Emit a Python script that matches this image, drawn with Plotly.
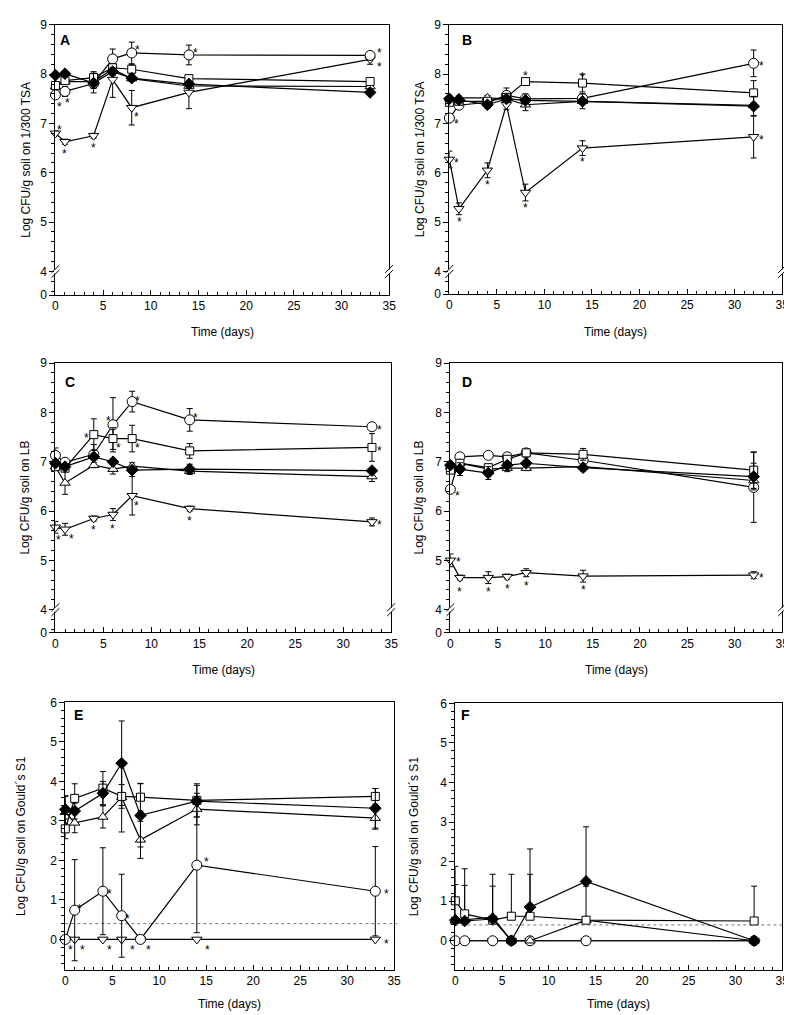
import plotly.graph_objects as go

W, H = 792, 1015

# ---------------- data ----------------
days_A = [0, 1, 4, 6, 8, 14, 33]
days_B = [0, 1, 4, 6, 8, 14, 32]
days_C = [0, 1, 4, 6, 8, 14, 33]
days_D = [0, 1, 4, 6, 8, 14, 32]
days_E = [0, 1, 4, 6, 8, 14, 33]
days_F = [0, 1, 4, 6, 8, 14, 32]

# Panel A  (1/300 TSA)
A_diamond = [7.98, 8.01, 7.82, 8.05, 7.92, 7.80, 7.63]
A_square = [7.77, 7.87, 7.93, 8.13, 8.10, 7.91, 7.85]
A_triup = [7.75, 7.85, 7.85, 8.10, 7.91, 7.76, 7.75]
A_circle = [7.58, 7.65, 7.81, 8.31, 8.43, 8.39, 8.38]
A_tridown = [6.80, 6.63, 6.75, 7.89, 7.32, 7.63, 8.30]
A_diamond_err = [0.03, 0.03, 0.20, 0.08, 0.05, 0.05, 0.03]
A_square_err = [0.05, 0.05, 0.12, 0.08, 0.10, 0.05, 0.04]
A_triup_err = [0.05, 0.05, 0.05, 0.08, 0.05, 0.05, 0.05]
A_circle_err = [0.04, 0.10, 0.10, 0.20, 0.22, 0.20, 0.03]
A_tridown_err = [0.05, 0.05, 0.05, 0.36, 0.35, 0.33, 0.10]

# Panel B  (1/300 TSA)
B_diamond = [7.50, 7.48, 7.38, 7.50, 7.47, 7.45, 7.35]
B_square = [7.43, 7.45, 7.45, 7.53, 7.85, 7.82, 7.62]
B_triup = [7.52, 7.52, 7.52, 7.50, 7.38, 7.45, 7.37]
B_circle = [7.11, 7.37, 7.43, 7.57, 7.50, 7.51, 8.22]
B_tridown = [6.27, 5.27, 6.05, 7.38, 5.60, 6.50, 6.73]
B_diamond_err = [0.03, 0.04, 0.07, 0.05, 0.05, 0.05, 0.20]
B_square_err = [0.04, 0.04, 0.05, 0.05, 0.08, 0.18, 0.25]
B_triup_err = [0.04, 0.04, 0.05, 0.05, 0.12, 0.15, 0.05]
B_circle_err = [0.04, 0.05, 0.05, 0.15, 0.10, 0.08, 0.27]
B_tridown_err = [0.17, 0.12, 0.15, 0.10, 0.17, 0.15, 0.43]

# Panel C  (LB)
C_diamond = [6.97, 6.90, 7.10, 7.00, 6.83, 6.85, 6.82]
C_square = [6.90, 6.87, 7.55, 7.47, 7.47, 7.22, 7.29]
C_triup = [6.90, 6.57, 6.93, 6.85, 6.91, 6.81, 6.70]
C_circle = [7.13, 6.99, 7.15, 7.75, 8.22, 7.85, 7.71]
C_tridown = [5.67, 5.63, 5.85, 5.93, 6.31, 6.05, 5.78]
C_diamond_err = [0.05, 0.05, 0.05, 0.05, 0.05, 0.10, 0.04]
C_square_err = [0.05, 0.05, 0.32, 0.22, 0.27, 0.15, 0.28]
C_triup_err = [0.05, 0.23, 0.05, 0.10, 0.07, 0.06, 0.10]
C_circle_err = [0.15, 0.05, 0.20, 0.55, 0.21, 0.23, 0.03]
C_tridown_err = [0.12, 0.12, 0.05, 0.12, 0.39, 0.05, 0.08]

# Panel D  (LB)
D_diamond = [6.93, 6.85, 6.77, 6.93, 6.97, 6.88, 6.70]
D_square = [6.83, 6.97, 6.88, 7.05, 7.18, 7.15, 6.83]
D_triup = [6.90, 6.97, 6.85, 6.87, 6.87, 6.90, 6.62]
D_circle = [6.44, 7.10, 7.13, 7.10, 7.18, 7.03, 6.48]
D_tridown = [5.00, 4.65, 4.65, 4.67, 4.75, 4.68, 4.70]
D_diamond_err = [0.05, 0.13, 0.13, 0.05, 0.05, 0.07, 0.27]
D_square_err = [0.05, 0.05, 0.05, 0.05, 0.05, 0.12, 0.37]
D_triup_err = [0.05, 0.05, 0.05, 0.07, 0.05, 0.05, 0.05]
D_circle_err = [0.05, 0.04, 0.04, 0.05, 0.04, 0.05, 0.71]
D_tridown_err = [0.13, 0.05, 0.12, 0.05, 0.08, 0.12, 0.07]

# Panel E  (Gould's S1)
E_diamond = [3.29, 3.25, 3.70, 4.46, 3.14, 3.50, 3.32]
E_square = [2.80, 3.57, 3.83, 3.62, 3.60, 3.52, 3.62]
E_triup = [3.22, 2.95, 3.10, 3.60, 2.52, 3.30, 3.07]
E_circle = [0.00, 0.74, 1.22, 0.60, 0.00, 1.88, 1.22]
E_tridown = [0.00, 0.00, 0.00, 0.00, 0.00, 0.00, 0.00]
E_diamond_err = [0.35, 0.20, 0.30, 1.07, 0.80, 0.40, 0.50]
E_square_err = [0.25, 0.37, 0.42, 0.30, 0.35, 0.42, 0.20]
E_triup_err = [0.40, 0.25, 0.28, 0.88, 0.47, 0.40, 0.28]
E_circle_err = [0.00, 1.28, 1.10, 1.05, 0.00, 1.71, 1.13]
E_tridown_err = [0.00, 0.00, 0.00, 0.00, 0.00, 0.00, 0.00]

# Panel F  (Gould's S1) - error bars shown upward only
F_diamond = [0.52, 0.50, 0.55, 0.00, 0.85, 1.50, 0.00]
F_square = [1.01, 0.68, 0.52, 0.62, 0.62, 0.52, 0.50]
F_triup = [0.50, 0.53, 0.60, 0.00, 0.00, 0.52, 0.00]
F_circle = [0.00, 0.00, 0.00, 0.00, 0.00, 0.00, 0.00]
F_tridown = [0.00, 0.00, 0.00, 0.00, 0.00, 0.00, 0.00]
F_diamond_err = [0.90, 0.00, 0.00, 0.00, 0.83, 1.38, 0.00]
F_square_err = [0.87, 1.14, 1.16, 1.06, 1.70, 0.00, 0.88]
F_triup_err = [0.00, 0.87, 0.78, 0.00, 0.00, 0.86, 0.00]
F_circle_err = [0, 0, 0, 0, 0, 0, 0]
F_tridown_err = [0, 0, 0, 0, 0, 0, 0]

detection_limit = 0.4

y_titles = {
    'A': 'Log CFU/g soil on 1/300 TSA', 'B': 'Log CFU/g soil on 1/300 TSA',
    'C': 'Log CFU/g soil on LB', 'D': 'Log CFU/g soil on LB',
    'E': 'Log CFU/g soil on Gould\u00b4s S1', 'F': 'Log CFU/g soil on Gould\u00b4s S1',
}
x_title = 'Time (days)'
x_ticks = [0, 5, 10, 15, 20, 25, 30, 35]
y_ticks_upper = [4, 5, 6, 7, 8, 9]
y_ticks_lower = [0, 1, 2, 3, 4, 5, 6]

# significance asterisks: (series, point index)
stars_A = [('circle', 0), ('circle', 1), ('tridown', 0), ('tridown', 1), ('tridown', 2),
           ('tridown', 4), ('circle', 4), ('circle', 5), ('circle', 6), ('tridown', 6)]
stars_B = [('circle', 0), ('tridown', 0), ('tridown', 1), ('tridown', 2), ('tridown', 4),
           ('tridown', 5), ('square', 4), ('square', 5), ('circle', 6), ('tridown', 6)]
stars_C = [('square', 2), ('circle', 3), ('square', 3), ('circle', 4), ('square', 4),
           ('circle', 5), ('circle', 6), ('square', 6), ('tridown', 0), ('tridown', 1),
           ('tridown', 2), ('tridown', 3), ('tridown', 4), ('tridown', 5), ('tridown', 6)]
stars_D = [('circle', 0), ('tridown', 0), ('tridown', 1), ('tridown', 2), ('tridown', 3),
           ('tridown', 4), ('tridown', 5), ('tridown', 6)]
stars_E = [('tridown', 0), ('tridown', 1), ('tridown', 2), ('tridown', 3), ('tridown', 4),
           ('tridown', 5), ('tridown', 6), ('circle', 1), ('circle', 2), ('circle', 3),
           ('circle', 5), ('circle', 6)]
stars_F = []

# asterisk placement offsets in px (dx, dy up) — layout only
star_offsets = {
    'A': [(4, -9), (3, -9), (4, 6), (0, -9), (0, -9), (5, -6), (6, 6), (7, 5), (9, 5), (9, -5)],
    'B': [(7, -3), (7, -1), (1, -10), (0, -12), (0, -12), (0, -11), (0, 9), (0, 9), (8, 0), (8, 0)],
    'C': [(-7, 0), (-4, 7), (6, -6), (5, 4), (5, -6), (6, 5), (8, 0), (8, -1), (3, -10),
          (6, -7), (0, -9), (0, -11), (4, -7), (0, -9), (8, 0)],
    'D': [(7, -4), (8, 1), (0, -11), (0, -11), (0, -9), (0, -10), (0, -11), (8, 0)],
    'E': [(5, -8), (8, -8), (7, -8), (11, -8), (8, -8), (11, -8), (11, -2),
          (5, 4), (7, 0), (6, 0), (10, 6), (11, 0)],
    'F': [],
}

# ---------------- styles / layout ----------------
FONT = 'Liberation Sans, Arial, Helvetica, sans-serif'
STYLE = {
    'diamond': dict(symbol='diamond', size=9, color='black'),
    'square': dict(symbol='square', size=8, color='white'),
    'triup': dict(symbol='triangle-up', size=9, color='white'),
    'circle': dict(symbol='circle', size=10, color='white'),
    'tridown': dict(symbol='triangle-down', size=9, color='white'),
}
ORDER = ['tridown', 'circle', 'triup', 'square', 'diamond']

# pixel boxes of the plot areas
BOX = {
    'A': dict(x0=45, x1=383, y0=10, y1=284, yr=[3.52, 9], broken=True),
    'B': dict(x0=444, x1=781, y0=10, y1=283, yr=[3.54, 9], broken=True),
    'C': dict(x0=45, x1=385, y0=353, y1=626, yr=[3.54, 9], broken=True),
    'D': dict(x0=445, x1=781, y0=353, y1=626, yr=[3.54, 9], broken=True),
    'E': dict(x0=55, x1=388, y0=697, y1=968, yr=[-0.765, 6], broken=False),
    'F': dict(x0=450, x1=781, y0=698, y1=968, yr=[-0.73, 6], broken=False),
}
YT_X = {'A': 15, 'B': 415, 'C': 14, 'D': 413, 'E': 10, 'F': 408}
XT_Y = {'A': 321, 'B': 321, 'C': 664, 'D': 664, 'E': 1003, 'F': 1003}
LETTER_POS = {'A': (55, 25), 'B': (462, 25), 'C': (60, 372), 'D': (462, 372), 'E': (68, 710), 'F': (460, 710)}

G = globals()
panels = ['A', 'B', 'C', 'D', 'E', 'F']

fig = go.Figure()
annotations = []
shapes = []


def px_x(p):
    return p / W


def px_y(p):
    return 1 - p / H


for i, P in enumerate(panels, start=1):
    days = G['days_' + P]
    box = BOX[P]
    xa = 'x' if i == 1 else f'x{i}'
    ya = 'y' if i == 1 else f'y{i}'
    up_only = (P == 'F')
    for s in ORDER:
        vals = G[f'{P}_{s}']
        err = G[f'{P}_{s}_err']
        st = STYLE[s]
        ey = dict(type='data', array=err, color='black', thickness=1, width=3, visible=True)
        if up_only:
            ey['symmetric'] = False
            ey['arrayminus'] = [0] * len(err)
        fig.add_trace(go.Scatter(
            x=days, y=vals, xaxis=xa, yaxis=ya, mode='lines+markers',
            line=dict(color='black', width=1.2),
            marker=dict(symbol=st['symbol'], size=st['size'], color=st['color'],
                        line=dict(color='black', width=1)),
            error_y=ey, cliponaxis=False, showlegend=False, hoverinfo='skip'))

    # axes
    xkey = 'xaxis' if i == 1 else f'xaxis{i}'
    ykey = 'yaxis' if i == 1 else f'yaxis{i}'
    fig.layout[xkey] = dict(
        domain=[px_x(box['x0']), px_x(box['x1'])], anchor=ya, range=[0, 35],
        tickmode='array', tickvals=x_ticks, ticks='inside', ticklen=5, tickwidth=1,
        minor=dict(tickmode='linear', tick0=0, dtick=1, ticks='inside', ticklen=3, tickwidth=1, tickcolor='black'),
        showline=True, linecolor='black', linewidth=1, mirror=True, showgrid=False, zeroline=False,
        tickfont=dict(family=FONT, size=12, color='black'), tickcolor='black')
    if box['broken']:
        tv = [box['yr'][0]] + y_ticks_upper
        tt = ['0'] + [str(v) for v in y_ticks_upper]
    else:
        tv = y_ticks_lower
        tt = [str(v) for v in y_ticks_lower]
    fig.layout[ykey] = dict(
        domain=[px_y(box['y1']), px_y(box['y0'])], anchor=xa, range=box['yr'],
        tickmode='array', tickvals=tv, ticktext=tt, ticks='outside', ticklen=5, tickwidth=1,
        minor=dict(tickmode='linear', tick0=0, dtick=0.2, ticks='outside', ticklen=3, tickwidth=1, tickcolor='black'),
        showline=True, linecolor='black', linewidth=1, mirror=True, showgrid=False, zeroline=False,
        tickfont=dict(family=FONT, size=12, color='black'), tickcolor='black')

    # axis titles
    annotations.append(dict(text=y_titles[P], xref='paper', yref='paper', x=px_x(YT_X[P]),
                            y=px_y((box['y0'] + box['y1']) / 2), textangle=-90, showarrow=False,
                            xanchor='center', yanchor='middle', font=dict(family=FONT, size=12, color='black')))
    annotations.append(dict(text=x_title, xref='paper', yref='paper', x=px_x((box['x0'] + box['x1']) / 2),
                            y=px_y(XT_Y[P]), showarrow=False, xanchor='center', yanchor='middle',
                            font=dict(family=FONT, size=12, color='black')))
    lx, ly = LETTER_POS[P]
    annotations.append(dict(text=f'<b>{P}</b>', xref='paper', yref='paper', x=px_x(lx), y=px_y(ly),
                            showarrow=False, xanchor='center', yanchor='middle',
                            font=dict(family=FONT, size=14, color='black')))

    # asterisks
    for (s, k), (dx, dy) in zip(G['stars_' + P], star_offsets[P]):
        annotations.append(dict(text='*', xref=xa, yref=ya, x=days[k], y=G[f'{P}_{s}'][k],
                                xshift=dx, yshift=dy - 3, showarrow=False, xanchor='center', yanchor='middle',
                                font=dict(family=FONT, size=12, color='black')))

    # axis break marks at 4
    if box['broken']:
        ypix = box['y0'] + (box['yr'][1] - 4) / (box['yr'][1] - box['yr'][0]) * (box['y1'] - box['y0'])
        for xp in (box['x0'], box['x1']):
            shapes.append(dict(type='rect', xref='paper', yref='paper',
                               x0=px_x(xp - 1.5), x1=px_x(xp + 1.5), y0=px_y(ypix + 2), y1=px_y(ypix - 2),
                               fillcolor='white', line=dict(width=0), layer='above'))
            for off in (-2.5, 2.5):
                shapes.append(dict(type='line', xref='paper', yref='paper',
                                   x0=px_x(xp - 4), y0=px_y(ypix + off + 4),
                                   x1=px_x(xp + 4), y1=px_y(ypix + off - 4),
                                   line=dict(color='black', width=1), layer='above'))
    else:
        shapes.append(dict(type='line', xref=f'{xa} domain', yref=ya, x0=0, x1=1.01,
                           y0=detection_limit, y1=detection_limit,
                           line=dict(color='#777777', width=1, dash='dot'), layer='below'))

fig.update_layout(width=W, height=H, margin=dict(l=0, r=0, t=0, b=0),
                  paper_bgcolor='white', plot_bgcolor='white',
                  annotations=annotations, shapes=shapes,
                  font=dict(family=FONT, size=12, color='black'))
fig.write_html('out.html')
